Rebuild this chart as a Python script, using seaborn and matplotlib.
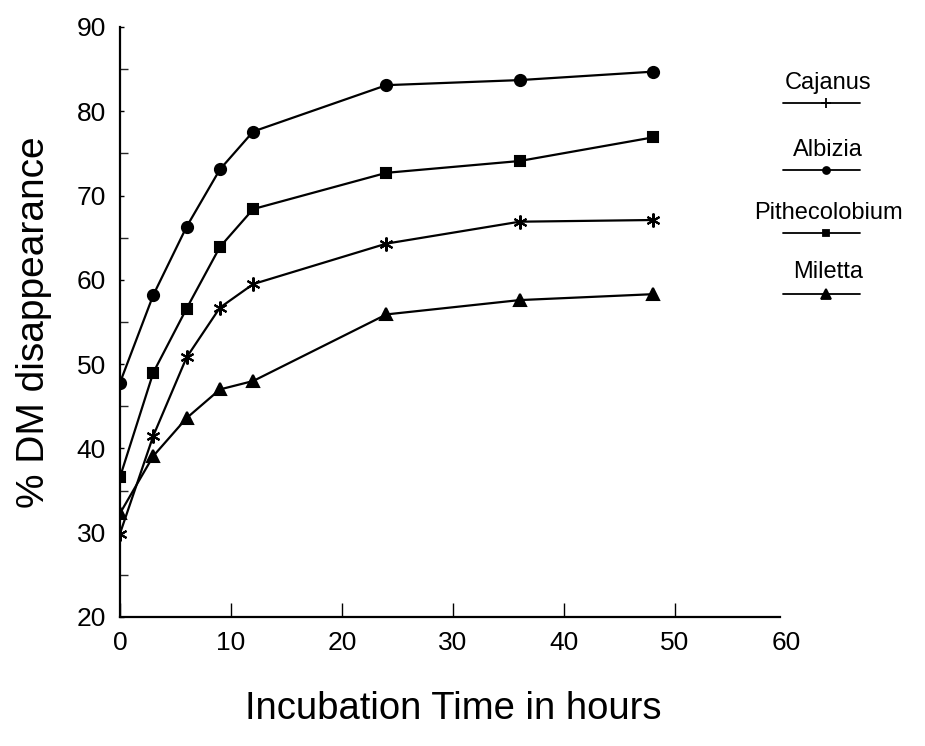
import matplotlib
matplotlib.use("Agg")
import matplotlib.pyplot as plt
from matplotlib.lines import Line2D
from matplotlib.ticker import MultipleLocator
import seaborn as sns
import pandas as pd

hours = [0, 3, 6, 9, 12, 24, 36, 48]
albizia = [47.8, 58.2, 66.3, 73.1, 77.6, 83.1, 83.7, 84.7]
pithecolobium = [36.6, 49.0, 56.6, 63.9, 68.4, 72.7, 74.1, 76.9]
cajanus = [29.9, 41.5, 50.8, 56.7, 59.5, 64.3, 66.9, 67.1]
miletta = [32.3, 39.1, 43.6, 47.0, 48.0, 55.9, 57.6, 58.3]

x_ticks = [0, 10, 20, 30, 40, 50]
x_end_tick = [60]

legend_names = ["Cajanus", "Albizia", "Pithecolobium", "Miletta"]
series = {"Albizia": albizia, "Pithecolobium": pithecolobium,
          "Cajanus": cajanus, "Miletta": miletta}

rows = []
for name, vals in series.items():
    for h, v in zip(hours, vals):
        rows.append({"hours": h, "value": v, "species": name})
df = pd.DataFrame(rows)

sns.set_theme(style="white")
plt.rcParams["font.family"] = ["Liberation Sans", "DejaVu Sans"]
plt.rcParams["text.color"] = "black"
plt.rcParams["axes.labelcolor"] = "black"

fig = plt.figure(figsize=(9.25, 7.46), dpi=100)
ax = fig.add_axes([120/925, 1-617/746, (786-120)/925, (617-27)/746])

markers = {"Albizia": "o", "Pithecolobium": "s", "Cajanus": (6, 2, 0), "Miletta": "^"}
sizes = {"Albizia": 8, "Pithecolobium": 7.5, "Cajanus": 10, "Miletta": 8.5}
for name in series:
    sub = df[df.species == name]
    sns.lineplot(data=sub, x="hours", y="value", ax=ax, color="black",
                 linewidth=1.6, marker=markers[name], markersize=sizes[name],
                 markeredgecolor="black", markerfacecolor="black",
                 markeredgewidth=1.5, legend=False)

ax.set_xlim(0, 60)
ax.set_ylim(20, 90)
ax.set_xticks(x_ticks)
ax.set_xticks(x_end_tick, labels=[str(v) for v in x_end_tick], minor=True)
ax.yaxis.set_major_locator(MultipleLocator(10))
ax.yaxis.set_minor_locator(MultipleLocator(5))
for s in ["top", "right"]:
    ax.spines[s].set_visible(False)
for s in ["left", "bottom"]:
    ax.spines[s].set_color("black")
    ax.spines[s].set_linewidth(1.6)
ax.spines["bottom"].set_bounds(0, 59.5)
ax.tick_params(axis="x", which="major", direction="in", length=10, width=1,
               labelsize=19, pad=10, bottom=True, colors="black")
ax.tick_params(axis="x", which="minor", direction="in", length=0,
               labelsize=19, pad=10, bottom=True, labelcolor="black")
ax.tick_params(axis="y", which="major", direction="in", length=3, width=1,
               labelsize=19, pad=10, left=True, colors="black")
ax.tick_params(axis="y", which="minor", direction="in", length=6, width=1, left=True)
ax.set_xlabel("Incubation Time in hours", fontsize=27.5, labelpad=26)
ax.set_ylabel("% DM disappearance", fontsize=28, labelpad=18)

leg_markers = {"Cajanus": "+", "Albizia": "o", "Pithecolobium": "s", "Miletta": "^"}
leg_msize = {"Cajanus": 7, "Albizia": 5, "Pithecolobium": 5, "Miletta": 7}
text_y = [83, 150, 213, 272]
line_y = [103, 170, 233, 294]
for name, ty, ly in zip(legend_names, text_y, line_y):
    fig.text(828/925, 1-ty/746, name, ha="center", va="center", fontsize=17)
    fig.add_artist(Line2D([783/925, 860/925], [1-ly/746, 1-ly/746],
                          color="black", linewidth=1.3))
    fig.add_artist(Line2D([826/925], [1-ly/746], color="black",
                          marker=leg_markers[name], markersize=leg_msize[name],
                          markerfacecolor="black", markeredgewidth=1.3))

fig.savefig("out.png", dpi=100, facecolor="white")
